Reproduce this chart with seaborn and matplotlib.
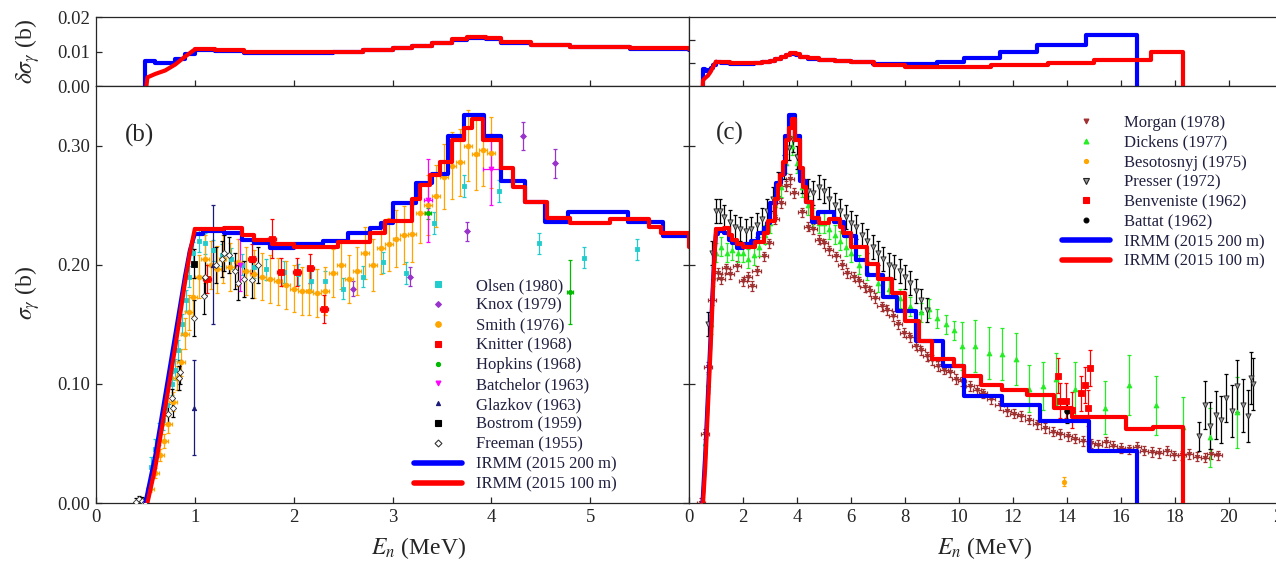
import numpy as np
import matplotlib
matplotlib.use("Agg")
import matplotlib.pyplot as plt
from matplotlib.lines import Line2D
import seaborn as sns

# ---- IRMM evaluations (step data, energy in MeV, cross section in b) ----
blue_rise_e = [0.50, 0.60, 0.70, 0.80, 0.90, 0.95, 1.00]
blue_rise_v = [0.0, 0.040, 0.090, 0.140, 0.190, 0.212, 0.226]
blue_e = [1.00, 1.08, 1.30, 1.48, 1.60, 1.76, 2.00, 2.30, 2.55, 2.77, 2.88, 3.00, 3.24, 3.40,
          3.56, 3.72, 3.93, 4.10, 4.34, 4.54, 4.78, 5.38, 5.74, 6.20, 6.60, 7.20, 7.70, 8.40,
          9.40, 10.2, 11.6, 13.0, 14.8, 16.6]
blue_v = [0.226, 0.228, 0.227, 0.221, 0.218, 0.214, 0.217, 0.220, 0.227, 0.231, 0.235, 0.252,
          0.269, 0.276, 0.308, 0.326, 0.308, 0.270, 0.253, 0.236, 0.244, 0.236, 0.224, 0.204,
          0.191, 0.173, 0.161, 0.136, 0.115, 0.090, 0.082, 0.069, 0.044, 0.0]

red_rise_e = [0.52, 0.60, 0.70, 0.80, 0.90, 0.95, 1.00]
red_rise_v = [0.0, 0.030, 0.080, 0.130, 0.185, 0.210, 0.230]
red_e = [1.00, 1.30, 1.48, 1.60, 1.78, 2.00, 2.45, 2.77, 2.92, 3.20, 3.28, 3.38, 3.48, 3.60,
         3.72, 3.80, 3.92, 4.10, 4.22, 4.34, 4.56, 4.80, 5.20, 5.60, 5.72, 6.00, 6.60, 7.00,
         7.50, 8.00, 8.50, 9.00, 9.80, 10.2, 10.8, 11.6, 12.5, 13.5, 14.2, 16.2, 17.2, 18.3]
red_v = [0.230, 0.231, 0.225, 0.221, 0.217, 0.215, 0.219, 0.227, 0.237, 0.255, 0.267, 0.275,
         0.286, 0.305, 0.315, 0.322, 0.305, 0.281, 0.265, 0.253, 0.239, 0.235, 0.238, 0.232,
         0.227, 0.215, 0.201, 0.188, 0.176, 0.153, 0.136, 0.121, 0.115, 0.107, 0.099, 0.095,
         0.091, 0.080, 0.072, 0.062, 0.064, 0.0]

# uncertainties (top panels)
dblue_e = [0.50, 0.50, 0.60, 0.70, 0.80, 0.90, 1.00, 1.20, 1.50, 2.00, 2.40, 2.70, 3.00, 3.20,
           3.40, 3.60, 3.75, 3.95, 4.10, 4.40, 4.80, 5.40, 6.00, 6.80, 8.00, 9.20, 10.2, 11.5,
           12.9, 14.7, 16.6]
dblue_v = [0.0, 0.0072, 0.0066, 0.0068, 0.0078, 0.0092, 0.0104, 0.0101, 0.0097, 0.0096, 0.0099,
           0.0103, 0.0109, 0.0116, 0.0124, 0.0133, 0.0140, 0.0135, 0.0125, 0.0118, 0.0112,
           0.0108, 0.0104, 0.0097, 0.0094, 0.0104, 0.0122, 0.0148, 0.0180, 0.0220, 0.0]
dred_rise_e = [0.51, 0.52, 0.60, 0.70, 0.80, 0.90, 1.00]
dred_rise_v = [0.0, 0.0025, 0.0035, 0.0045, 0.0062, 0.0085, 0.0106]
dred_e = [1.00, 1.20, 1.50, 2.00, 2.40, 2.70, 3.00, 3.20, 3.40, 3.60, 3.75, 3.95, 4.10, 4.40,
          4.80, 5.40, 6.00, 6.85, 8.00, 10.1, 11.2, 13.3, 15.0, 17.1, 18.3]
dred_v = [0.0106, 0.0103, 0.0099, 0.0098, 0.0100, 0.0104, 0.0110, 0.0117, 0.0126, 0.0135,
          0.0143, 0.0138, 0.0128, 0.0120, 0.0114, 0.0110, 0.0106, 0.0090, 0.0081, 0.0084,
          0.0093, 0.0100, 0.0112, 0.0146, 0.0]

# ---- experimental data, panel (b) ----
olsen_e = [0.56, 0.60, 0.64, 0.68, 0.72, 0.77, 0.80, 0.83, 0.87, 0.91, 0.94, 0.98, 1.04, 1.10,
           1.18, 1.27, 1.37, 1.48, 1.60, 1.72, 1.90, 2.04, 2.18, 2.32, 2.50, 2.70, 2.90, 3.14,
           3.42, 3.72, 4.08, 4.48, 4.94, 5.47]
olsen_v = [0.030, 0.045, 0.058, 0.070, 0.082, 0.100, 0.112, 0.128, 0.150, 0.170, 0.190, 0.210,
           0.220, 0.218, 0.212, 0.208, 0.205, 0.200, 0.198, 0.196, 0.194, 0.192, 0.186, 0.186,
           0.180, 0.190, 0.202, 0.193, 0.235, 0.266, 0.262, 0.218, 0.206, 0.213]
olsen_err = 0.009

knox_e = [2.60, 3.18, 3.75, 4.32, 4.64]
knox_v = [0.180, 0.190, 0.228, 0.308, 0.285]
knox_err = [0.006, 0.008, 0.008, 0.012, 0.012]

smith_e = [0.55, 0.60, 0.65, 0.69, 0.73, 0.78, 0.82, 0.86, 0.90, 0.94, 0.98, 1.04, 1.10, 1.16,
           1.22, 1.28, 1.36, 1.44, 1.52, 1.60, 1.68, 1.76, 1.84, 1.92, 2.00, 2.08, 2.16, 2.24,
           2.32, 2.40, 2.48, 2.56, 2.64, 2.72, 2.80, 2.88, 2.96, 3.04, 3.12, 3.20, 3.28, 3.36,
           3.44, 3.52, 3.60, 3.68, 3.76, 3.84, 3.92, 4.00]
smith_v = [0.012, 0.025, 0.040, 0.052, 0.066, 0.085, 0.105, 0.118, 0.142, 0.160, 0.173, 0.190,
           0.205, 0.200, 0.196, 0.205, 0.198, 0.202, 0.195, 0.192, 0.190, 0.188, 0.186, 0.183,
           0.180, 0.178, 0.178, 0.176, 0.178, 0.193, 0.200, 0.188, 0.195, 0.210, 0.200, 0.214,
           0.217, 0.222, 0.225, 0.226, 0.243, 0.250, 0.258, 0.274, 0.283, 0.286, 0.300, 0.293,
           0.296, 0.294]
smith_err = [0.003, 0.004, 0.005, 0.006, 0.007, 0.008, 0.010, 0.011, 0.013, 0.015, 0.016, 0.018,
             0.020, 0.020, 0.020, 0.020, 0.020, 0.020, 0.020, 0.020, 0.020, 0.020, 0.020, 0.020,
             0.020, 0.020, 0.020, 0.020, 0.020, 0.020, 0.020, 0.020, 0.020, 0.022, 0.022, 0.022,
             0.022, 0.024, 0.024, 0.024, 0.025, 0.025, 0.026, 0.027, 0.028, 0.028, 0.030, 0.030,
             0.030, 0.030]
smith_xerr = 0.04

knitter_e = [1.12, 1.58, 1.78, 1.87, 2.03, 2.17, 2.31]
knitter_v = [0.188, 0.205, 0.222, 0.194, 0.194, 0.197, 0.163]
knitter_err = [0.012, 0.012, 0.016, 0.012, 0.012, 0.012, 0.012]

hopkins_e = [3.36, 4.80]
hopkins_v = [0.243, 0.177]
hopkins_err = [0.005, 0.027]

batchelor_e = [1.46, 3.36, 4.00]
batchelor_v = [0.200, 0.254, 0.280]
batchelor_err = [0.022, 0.035, 0.030]
batchelor_xerr = [0.04, 0.04, 0.08]

glazkov_e = [0.99, 1.18]
glazkov_v = [0.080, 0.200]
glazkov_err = [0.040, 0.050]

bostrom_e = [0.99]
bostrom_v = [0.201]
bostrom_err = [0.012]

freeman_e = [0.40, 0.44, 0.47, 0.50, 0.73, 0.77, 0.78, 0.84, 0.85, 0.99, 1.09, 1.10, 1.21,
             1.27, 1.30, 1.35, 1.41, 1.44, 1.50, 1.58, 1.64]
freeman_v = [0.001, 0.003, 0.002, 0.001, 0.075, 0.088, 0.080, 0.105, 0.110, 0.155, 0.174, 0.190,
             0.200, 0.205, 0.210, 0.208, 0.195, 0.185, 0.188, 0.187, 0.200]
freeman_err = [0.003, 0.003, 0.003, 0.003, 0.008, 0.008, 0.008, 0.010, 0.010, 0.015, 0.015,
               0.015, 0.015, 0.015, 0.015, 0.015, 0.015, 0.015, 0.015, 0.015, 0.015]

# ---- experimental data, panel (c) ----
morgan_e = [0.44, 0.58, 0.72, 0.86, 1.07, 1.2, 1.36, 1.5, 1.78, 2.0, 2.2, 2.34, 2.5, 2.76, 2.95,
            3.19, 3.4, 3.6, 3.75, 3.9, 4.17, 4.4, 4.6, 4.8, 5.0, 5.2, 5.44, 5.65, 5.86, 6.1, 6.29,
            6.5, 6.71, 6.9, 7.13, 7.35, 7.55, 7.75, 7.98, 8.2, 8.4, 8.6, 8.82, 9.0, 9.24, 9.45,
            9.67, 9.9, 10.1, 10.4, 10.65, 10.9, 11.2, 11.5, 11.78, 12.05, 12.3, 12.6, 12.9, 13.2,
            13.47, 13.75, 14.03, 14.3, 14.6, 14.9, 15.16, 15.45, 15.7, 16.0, 16.3, 16.6, 16.85,
            17.15, 17.4, 17.7, 17.97, 18.25, 18.5, 18.8, 19.1, 19.35, 19.6]
morgan_v = [0.0, 0.058, 0.114, 0.170, 0.193, 0.188, 0.197, 0.192, 0.199, 0.186, 0.19, 0.182,
            0.195, 0.207, 0.218, 0.238, 0.252, 0.266, 0.272, 0.26, 0.244, 0.232, 0.23, 0.221,
            0.218, 0.212, 0.207, 0.2, 0.193, 0.19, 0.186, 0.181, 0.178, 0.172, 0.165, 0.162,
            0.157, 0.15, 0.143, 0.139, 0.132, 0.128, 0.123, 0.12, 0.115, 0.112, 0.11, 0.104,
            0.102, 0.098, 0.095, 0.092, 0.087, 0.082, 0.077, 0.075, 0.073, 0.07, 0.066, 0.063,
            0.06, 0.058, 0.056, 0.054, 0.052, 0.05, 0.049, 0.051, 0.048, 0.046, 0.045, 0.047,
            0.044, 0.043, 0.042, 0.044, 0.040, 0.04, 0.041, 0.039, 0.038, 0.041, 0.040]
morgan_err = 0.004
morgan_xerr = 0.15

dickens_e = [0.6, 0.7, 0.8, 0.9, 1.0, 1.2, 1.4, 1.6, 1.8, 2.0, 2.2, 2.4, 2.6, 2.8, 3.0, 3.2, 3.4,
             3.6, 3.8, 4.0, 4.2, 4.4, 4.6, 4.8, 5.0, 5.2, 5.4, 5.6, 5.8, 6.0, 6.3, 6.6, 7.0, 7.4,
             7.8, 8.2, 8.6, 8.9, 9.2, 9.5, 9.8, 10.1, 10.6, 11.1, 11.6, 12.1, 12.6, 13.1, 13.6,
             14.3, 15.4, 16.3, 17.3, 18.3, 19.3, 20.3]
dickens_v = [0.05, 0.10, 0.15, 0.19, 0.21, 0.215, 0.21, 0.212, 0.21, 0.21, 0.205, 0.208, 0.215,
             0.225, 0.235, 0.25, 0.265, 0.285, 0.300, 0.285, 0.265, 0.25, 0.24, 0.235, 0.235,
             0.23, 0.225, 0.22, 0.215, 0.21, 0.2, 0.195, 0.185, 0.18, 0.172, 0.165, 0.16, 0.163,
             0.155, 0.15, 0.145, 0.132, 0.132, 0.126, 0.125, 0.121, 0.096, 0.098, 0.104, 0.096,
             0.080, 0.099, 0.082, 0.064, 0.055, 0.076]
dickens_err = [0.008] * 41 + [0.020, 0.022, 0.022, 0.022, 0.022, 0.020, 0.020, 0.022, 0.022,
                              0.022, 0.025, 0.025, 0.025, 0.025, 0.030]

besotosnyj_e = [13.9]
besotosnyj_v = [0.018]
besotosnyj_err = [0.004]

presser_e = [0.7, 0.85, 1.0, 1.15, 1.3, 1.5, 1.7, 1.9, 2.1, 2.3, 2.5, 2.7, 2.9, 3.1, 3.3, 3.5,
             3.7, 3.85, 4.0, 4.2, 4.4, 4.6, 4.8, 5.0, 5.2, 5.4, 5.6, 5.8, 6.0, 6.2, 6.4, 6.6,
             6.8, 7.0, 7.2, 7.4, 7.6, 7.8, 8.0, 8.2, 8.4, 8.6, 8.8, 18.9, 19.1, 19.3, 19.5, 19.7,
             19.9, 20.1, 20.3, 20.5, 20.7, 20.8, 20.9]
presser_v = [0.15, 0.21, 0.245, 0.245, 0.24, 0.236, 0.232, 0.23, 0.228, 0.23, 0.233, 0.238,
             0.245, 0.255, 0.268, 0.282, 0.298, 0.305, 0.29, 0.27, 0.262, 0.26, 0.265, 0.262,
             0.255, 0.25, 0.245, 0.24, 0.235, 0.232, 0.225, 0.22, 0.215, 0.21, 0.205, 0.2, 0.198,
             0.195, 0.19, 0.185, 0.178, 0.17, 0.162, 0.056, 0.082, 0.065, 0.074, 0.07, 0.088,
             0.077, 0.098, 0.082, 0.073, 0.105, 0.10]
presser_err = [0.010] * 43 + [0.012, 0.020, 0.020, 0.020, 0.020, 0.020, 0.022, 0.022, 0.022,
                              0.022, 0.022, 0.022]

benveniste_e = [13.65, 13.75, 13.97, 14.2, 14.5, 14.67, 14.77, 14.84]
benveniste_v = [0.107, 0.086, 0.086, 0.078, 0.092, 0.099, 0.080, 0.113]
benveniste_err = 0.015

battat_e = [14.0]
battat_v = [0.077]
battat_err = [0.010]

# ---- style ----
sns.set_style("ticks")
plt.rcParams["font.family"] = ["Liberation Serif", "DejaVu Serif"]
plt.rcParams["mathtext.fontset"] = "stix"
plt.rcParams["axes.linewidth"] = 0.9

W, H = 1276, 562
fig = plt.figure(figsize=(W / 100, H / 100), dpi=100)


def box(x0, y0, x1, y1):
    return [x0 / W, 1 - y1 / H, (x1 - x0) / W, (y1 - y0) / H]


ax_tl = fig.add_axes(box(96, 17, 689, 86))
ax_tr = fig.add_axes(box(689, 17, 1283, 86))
ax_b = fig.add_axes(box(96, 86, 689, 503))
ax_c = fig.add_axes(box(689, 86, 1283, 503))

BLUE, RED = "#0000FF", "#FF0000"
LW = 3.0


def steps(ax, e, v, color, z):
    sns.lineplot(x=e, y=v, drawstyle="steps-post", color=color, lw=LW, ax=ax,
                 estimator=None, sort=False, zorder=z)


def line(ax, e, v, color, z):
    sns.lineplot(x=e, y=v, color=color, lw=LW, ax=ax, estimator=None, sort=False, zorder=z)


def points(ax, e, v, yerr, color, marker, s, xerr=None, ecolor=None, face=None, edge=None):
    ax.errorbar(e, v, yerr=yerr, xerr=xerr, fmt="none", ecolor=ecolor or color,
                elinewidth=0.9, capsize=1.5, capthick=0.9, zorder=2)
    sns.scatterplot(x=e, y=v, marker=marker, s=s, color=face or color,
                    edgecolor=edge or color, linewidth=0.6, ax=ax, legend=False, zorder=3)


# top panels
for ax in (ax_tl, ax_tr):
    steps(ax, dblue_e, dblue_v, BLUE, 4)
    line(ax, dred_rise_e, dred_rise_v, RED, 5)
    steps(ax, dred_e, dred_v, RED, 5)

# main panels: evaluations
for ax in (ax_b, ax_c):
    line(ax, blue_rise_e, blue_rise_v, BLUE, 4)
    steps(ax, blue_e, blue_v, BLUE, 4)
    line(ax, red_rise_e, red_rise_v, RED, 5)
    steps(ax, red_e, red_v, RED, 5)

# panel (b) data
points(ax_b, olsen_e, olsen_v, olsen_err, "#22CCCC", "s", 12)
points(ax_b, knox_e, knox_v, knox_err, "#9933CC", "D", 9)
points(ax_b, smith_e, smith_v, smith_err, "#FFA500", "o", 12, xerr=smith_xerr)
points(ax_b, knitter_e, knitter_v, knitter_err, "#FF0000", "s", 20, xerr=0.04)
points(ax_b, hopkins_e, hopkins_v, hopkins_err, "#00BB00", "o", 9, xerr=0.03)
points(ax_b, batchelor_e, batchelor_v, batchelor_err, "#FF00FF", "v", 12, xerr=batchelor_xerr)
points(ax_b, glazkov_e, glazkov_v, glazkov_err, "#1A1A7A", "^", 10)
points(ax_b, bostrom_e, bostrom_v, bostrom_err, "#000000", "s", 16)
points(ax_b, freeman_e, freeman_v, freeman_err, "#000000", "D", 10, face="white", edge="#333333")

# panel (c) data
points(ax_c, morgan_e, morgan_v, morgan_err, "#A03030", "v", 10, xerr=morgan_xerr)
points(ax_c, dickens_e, dickens_v, dickens_err, "#22EE22", "^", 12)
points(ax_c, besotosnyj_e, besotosnyj_v, besotosnyj_err, "#FFA500", "o", 10)
points(ax_c, presser_e, presser_v, presser_err, "#999999", "v", 14, ecolor="#000000",
       face="#999999", edge="#222222")
points(ax_c, benveniste_e, benveniste_v, benveniste_err, "#FF0000", "s", 18)
points(ax_c, battat_e, battat_v, battat_err, "#000000", "o", 16)

# axes limits / ticks
TICK = 13.5
for ax in (ax_tl, ax_tr, ax_b, ax_c):
    ax.set_xlabel("")
    ax.set_ylabel("")
    ax.tick_params(direction="in", length=4.5, width=0.9, labelsize=TICK, pad=4)

ax_tl.set_xlim(0, 6)
ax_tl.set_ylim(0, 0.02)
ax_tl.set_xticks([1, 2, 3, 4, 5])
ax_tl.set_xticklabels([])
ax_tl.set_yticks([0.0, 0.01, 0.02])
ax_tl.set_yticklabels(["0.00", "0.01", "0.02"])

ax_tr.set_xlim(0, 22)
ax_tr.set_ylim(0, 0.03)
ax_tr.set_xticks(range(2, 21, 2))
ax_tr.set_xticklabels([])
ax_tr.set_yticks([0.01, 0.02])
ax_tr.set_yticklabels([])

ax_b.set_xlim(0, 6)
ax_b.set_ylim(0, 0.35)
ax_b.set_xticks([0, 1, 2, 3, 4, 5])
ax_b.set_yticks([0.0, 0.1, 0.2, 0.3])
ax_b.set_yticklabels(["0.00", "0.10", "0.20", "0.30"])
ax_b.tick_params(axis="y", right=True)

ax_c.set_xlim(0, 22)
ax_c.set_ylim(0, 0.35)
ax_c.set_xticks(range(0, 23, 2))
ax_c.set_yticks([0.1, 0.2, 0.3])
ax_c.set_yticklabels([])

# labels
fig.text(28 / W, 1 - 52 / H, r"$\delta\sigma_\gamma$ (b)", rotation=90, ha="center",
         va="center", fontsize=17)
fig.text(28 / W, 1 - 293 / H, r"$\sigma_\gamma$ (b)", rotation=90, ha="center",
         va="center", fontsize=17)
fig.text(419 / W, 1 - 548 / H, r"$E_n$ (MeV)", ha="center", va="center", fontsize=17)
fig.text(985 / W, 1 - 548 / H, r"$E_n$ (MeV)", ha="center", va="center", fontsize=17)
fig.text(140 / W, 1 - 135 / H, "(b)", ha="center", va="center", fontsize=18)
fig.text(730 / W, 1 - 133 / H, "(c)", ha="center", va="center", fontsize=18)


# legends
def handle(color, marker, ms, face=None, edge=None):
    return Line2D([], [], ls="none", marker=marker, ms=ms, color=color,
                  mfc=face or color, mec=edge or color, mew=0.8)


irmm = [Line2D([], [], color=BLUE, lw=4), Line2D([], [], color=RED, lw=4)]
irmm_labels = ["IRMM (2015 200 m)", "IRMM (2015 100 m)"]

hb = [handle("#22CCCC", "s", 4), handle("#9933CC", "D", 3), handle("#FFA500", "o", 4),
      handle("#FF0000", "s", 4.5), handle("#00BB00", "o", 3), handle("#FF00FF", "v", 3.5),
      handle("#1A1A7A", "^", 3), handle("#000000", "s", 4),
      handle("#000000", "D", 3.5, face="white", edge="#333333")] + irmm
lb = ["Olsen (1980)", "Knox (1979)", "Smith (1976)", "Knitter (1968)", "Hopkins (1968)",
      "Batchelor (1963)", "Glazkov (1963)", "Bostrom (1959)", "Freeman (1955)"] + irmm_labels

hc = [handle("#A03030", "v", 3.5), handle("#22EE22", "^", 3.5), handle("#FFA500", "o", 3),
      handle("#999999", "v", 4, edge="#222222"), handle("#FF0000", "s", 4),
      handle("#000000", "o", 3.5)] + irmm
lc = ["Morgan (1978)", "Dickens (1977)", "Besotosnyj (1975)", "Presser (1972)",
      "Benveniste (1962)", "Battat (1962)"] + irmm_labels

legkw = dict(loc="upper left", bbox_transform=fig.transFigure, frameon=False, fontsize=12,
             handlelength=2.9, handletextpad=0.8, labelspacing=0.23, borderpad=0,
             borderaxespad=0)
leg = ax_b.legend(hb, lb, bbox_to_anchor=(414 / W, 1 - 278 / H), **legkw)
for t in leg.get_texts():
    t.set_color("#202040")
leg2 = ax_c.legend(hc, lc, bbox_to_anchor=(1062 / W, 1 - 115 / H), **legkw)
for t in leg2.get_texts():
    t.set_color("#202040")

fig.savefig("out.png", dpi=100)
